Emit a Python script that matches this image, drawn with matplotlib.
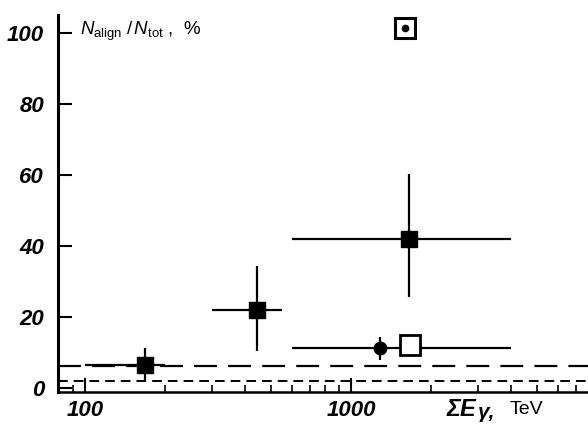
import matplotlib
matplotlib.use("Agg")
import matplotlib.pyplot as plt
from matplotlib.ticker import FixedLocator, LogLocator, NullFormatter

plt.rcParams['font.family'] = ['Liberation Sans', 'DejaVu Sans']
plt.rcParams['mathtext.fontset'] = 'custom'
plt.rcParams['mathtext.rm'] = 'Liberation Sans'
plt.rcParams['mathtext.it'] = 'Liberation Sans:italic'
plt.rcParams['lines.scale_dashes'] = False

# filled squares
sq_e = [168, 445, 1650]
sq_f = [6.4, 22.0, 42.1]
sq_e_lo = [100, 300, 600]
sq_e_hi = [200, 550, 4000]
sq_f_lo = [2.2, 10.4, 25.7]
sq_f_hi = [11.3, 34.5, 60.3]

# filled circle with the wide bin
dot_e = [1290]
dot_f = [11.1]
dot_e_lo = [600]
dot_e_hi = [4000]
dot_f_lo = [7.8]
dot_f_hi = [14.4]

# open square
open_e = [1670]
open_f = [12.1]

# square with dot (top)
mark_e = [1600]
mark_f = [101.5]

# background levels
long_dash_level = 6.0
short_dash_level = 1.8

yticks = [0, 20, 40, 60, 80, 100]
xticks = [100, 1000]

W, H = 588, 430
fig = plt.figure(figsize=(W / 100, H / 100), dpi=100)
ax = fig.add_axes([58 / W, 1 - 392 / H, 1 - 58 / W, (392 - 15) / H])

ax.set_xscale('log')
ax.set_xlim(79, 7800)
ax.set_ylim(-1.2, 105.2)

ax.axhline(long_dash_level, color='black', lw=1.6, dashes=(16.5, 8))
ax.axhline(short_dash_level, color='black', lw=1.4, dashes=(7, 4.3))

xerr = [[e - lo for e, lo in zip(sq_e, sq_e_lo)], [hi - e for e, hi in zip(sq_e, sq_e_hi)]]
yerr = [[f - lo for f, lo in zip(sq_f, sq_f_lo)], [hi - f for f, hi in zip(sq_f, sq_f_hi)]]
ax.errorbar(sq_e, sq_f, xerr=xerr, yerr=yerr, fmt='s', color='black', ms=11,
            elinewidth=1.6, capsize=0)

xerr = [[e - lo for e, lo in zip(dot_e, dot_e_lo)], [hi - e for e, hi in zip(dot_e, dot_e_hi)]]
yerr = [[f - lo for f, lo in zip(dot_f, dot_f_lo)], [hi - f for f, hi in zip(dot_f, dot_f_hi)]]
ax.errorbar(dot_e, dot_f, xerr=xerr, yerr=yerr, fmt='o', color='black', ms=9,
            elinewidth=1.6, capsize=0)

ax.plot(open_e, open_f, 's', ms=14, mfc='white', mec='black', mew=2)
ax.plot(mark_e, mark_f, 's', ms=14, mfc='white', mec='black', mew=2.2, clip_on=False)
ax.plot(mark_e, mark_f, 'o', ms=4.5, color='black', clip_on=False)

for s in ['top', 'right']:
    ax.spines[s].set_visible(False)
ax.spines['left'].set_linewidth(2.2)
ax.spines['bottom'].set_linewidth(1.8)

ax.yaxis.set_major_locator(FixedLocator(yticks))
ax.set_yticklabels([str(v) for v in yticks])
ax.xaxis.set_major_locator(FixedLocator(xticks))
ax.set_xticklabels([str(v) for v in xticks])
ax.xaxis.set_minor_locator(LogLocator(base=10, subs=range(2, 10)))
ax.xaxis.set_minor_formatter(NullFormatter())

tick_font = dict(family=['Liberation Sans Narrow', 'Liberation Sans', 'DejaVu Sans'],
                 weight='bold', style='italic', size=16)
for lab in ax.get_xticklabels() + ax.get_yticklabels():
    lab.set(**tick_font)

ax.tick_params(axis='y', direction='in', length=10, width=1.5, pad=10)
ax.tick_params(axis='x', which='major', direction='in', length=10, width=1.5, pad=6)
ax.tick_params(axis='x', which='minor', direction='in', length=5, width=1.2)

# axis titles
fig.text(80 / W, 1 - 31 / H, r'$N_{\rm align}\;/\,N_{\rm tot}$ ,  %', fontsize=13.5,
         ha='left', va='center')
fig.text(447 / W, 1 - 409 / H, 'ΣE', ha='left', va='center',
         family=['Liberation Sans', 'DejaVu Sans'], weight='bold', style='italic', size=17)
fig.text(478 / W, 1 - 413 / H, 'γ,', ha='left', va='center',
         family=['Liberation Sans', 'DejaVu Sans'], weight='bold', style='italic', size=15)
fig.text(510 / W, 1 - 409 / H, 'TeV', ha='left', va='center', fontsize=14)

fig.savefig('out.png', dpi=100)
